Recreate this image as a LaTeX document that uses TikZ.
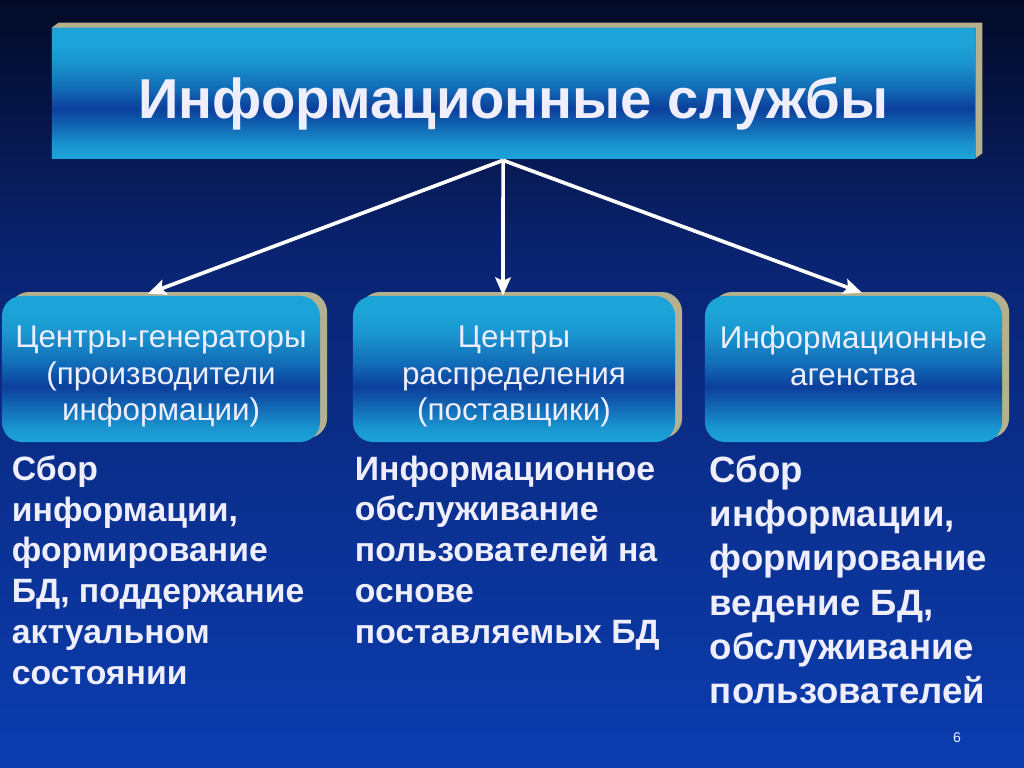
\documentclass[tikz,border=0pt]{standalone}
\usepackage{fontspec}
\setmainfont{Liberation Sans}
\usetikzlibrary{positioning,arrows.meta,shadows}

\definecolor{skytop}{HTML}{030A26}
\definecolor{skymid}{HTML}{0A2472}
\definecolor{skybot}{HTML}{0B3DB0}
\definecolor{facecyan}{HTML}{1CA4D8}
\definecolor{facedark}{HTML}{0B3F9C}
\definecolor{tanedge}{HTML}{B5B08E}
\definecolor{lilac}{HTML}{EEEEFF}

\pgfdeclareverticalshading{facefill}{100bp}{color(0bp)=(facecyan); color(25bp)=(facecyan); color(30bp)=(facecyan!85!facedark); color(38bp)=(facecyan!35!facedark); color(44bp)=(facedark); color(52bp)=(facecyan!45!facedark); color(62bp)=(facecyan!85!facedark); color(69bp)=(facecyan); color(100bp)=(facecyan)}
\pgfdeclareverticalshading{skyfill}{100bp}{color(0bp)=(skybot); color(25bp)=(skybot); color(58bp)=(skymid); color(75bp)=(skytop); color(100bp)=(skytop)}

\begin{document}
\begin{tikzpicture}[x=0.025cm,y=-0.025cm,
  face/.style={shade,shading=facefill,draw=none,text=lilac},
  bigbox/.style={face,minimum width=23.075cm,minimum height=3.25cm,inner sep=0pt,
    text height=1.55cm,text depth=0.3cm,
    font=\bfseries\fontsize{40}{46}\selectfont},
  smallbox/.style={face,rounded corners=0.5cm,minimum height=3.65cm,inner sep=0pt,
    general shadow={fill=tanedge,shadow xshift=5pt,shadow yshift=2.8pt}},
  boxtext/.style={text=lilac,align=center,inner sep=0pt,font=\fontsize{22.3}{26}\selectfont},
  desc/.style={text=lilac,align=left,inner sep=0pt,font=\bfseries\fontsize{24}{29}\selectfont},
  conn/.style={draw=white,line width=2.6pt,-{Stealth[length=13pt,width=11pt,inset=2.5pt]}}]

\shade[shading=skyfill] (0,0) rectangle (1024,768);
\useasboundingbox (0,0) rectangle (1024,768);

\node[bigbox] (serv) at (513.5,93) {Информационные службы};
% raised edge of the title bar
\fill[tanedge] (serv.north west) -- ([shift={(7,-5)}]serv.north west)
  -- ([shift={(7,-5)}]serv.north east) -- ([shift={(7,-5)}]serv.south east)
  -- (serv.south east) -- (serv.north east) -- cycle;

\node[smallbox,minimum width=7.95cm] (gen) at (161,369) {};
\node[smallbox,minimum width=8.05cm] (dist) at (514,369) {};
\node[smallbox,minimum width=7.425cm] (agn) at (853.5,369) {};

\node[boxtext,below=0.75cm of gen.north] (gentxt) {Центры-генераторы\\(производители\\информации)};
\node[boxtext,below=0.75cm of dist.north] (disttxt) {Центры\\распределения\\(поставщики)};
\node[boxtext,below=0.75cm of agn.north] (agntxt) {Информационные\\агенства};

\coordinate (hub) at ([xshift=-0.26cm,yshift=-0.05cm]serv.south);
\draw[conn] (hub) -- ([xshift=-0.33cm,yshift=0.05cm]gen.north);
\draw[conn] (hub) -- ([xshift=-0.275cm]dist.north);
\draw[conn] (hub) -- ([xshift=0.21cm,yshift=0.075cm]agn.north);

\node[desc,below right=0.325cm and 0.25cm of gen.south west] (gendesc)
  {Сбор\\информации,\\формирование\\БД, поддержание\\актуальном\\состоянии};
\node[desc,below right=0.325cm and 0.05cm of dist.south west] (distdesc)
  {Информационное\\обслуживание\\пользователей на\\основе\\поставляемых БД};
\node[desc,font=\bfseries\fontsize{26}{31.5}\selectfont,
  below right=0.325cm and 0.125cm of agn.south west] (agndesc)
  {Сбор\\информации,\\формирование\\ведение БД,\\обслуживание\\пользователей};

\node[text=lilac!80,font=\fontsize{10}{12}\selectfont] (pagenum) at (957,738) {6};
\end{tikzpicture}
\end{document}
